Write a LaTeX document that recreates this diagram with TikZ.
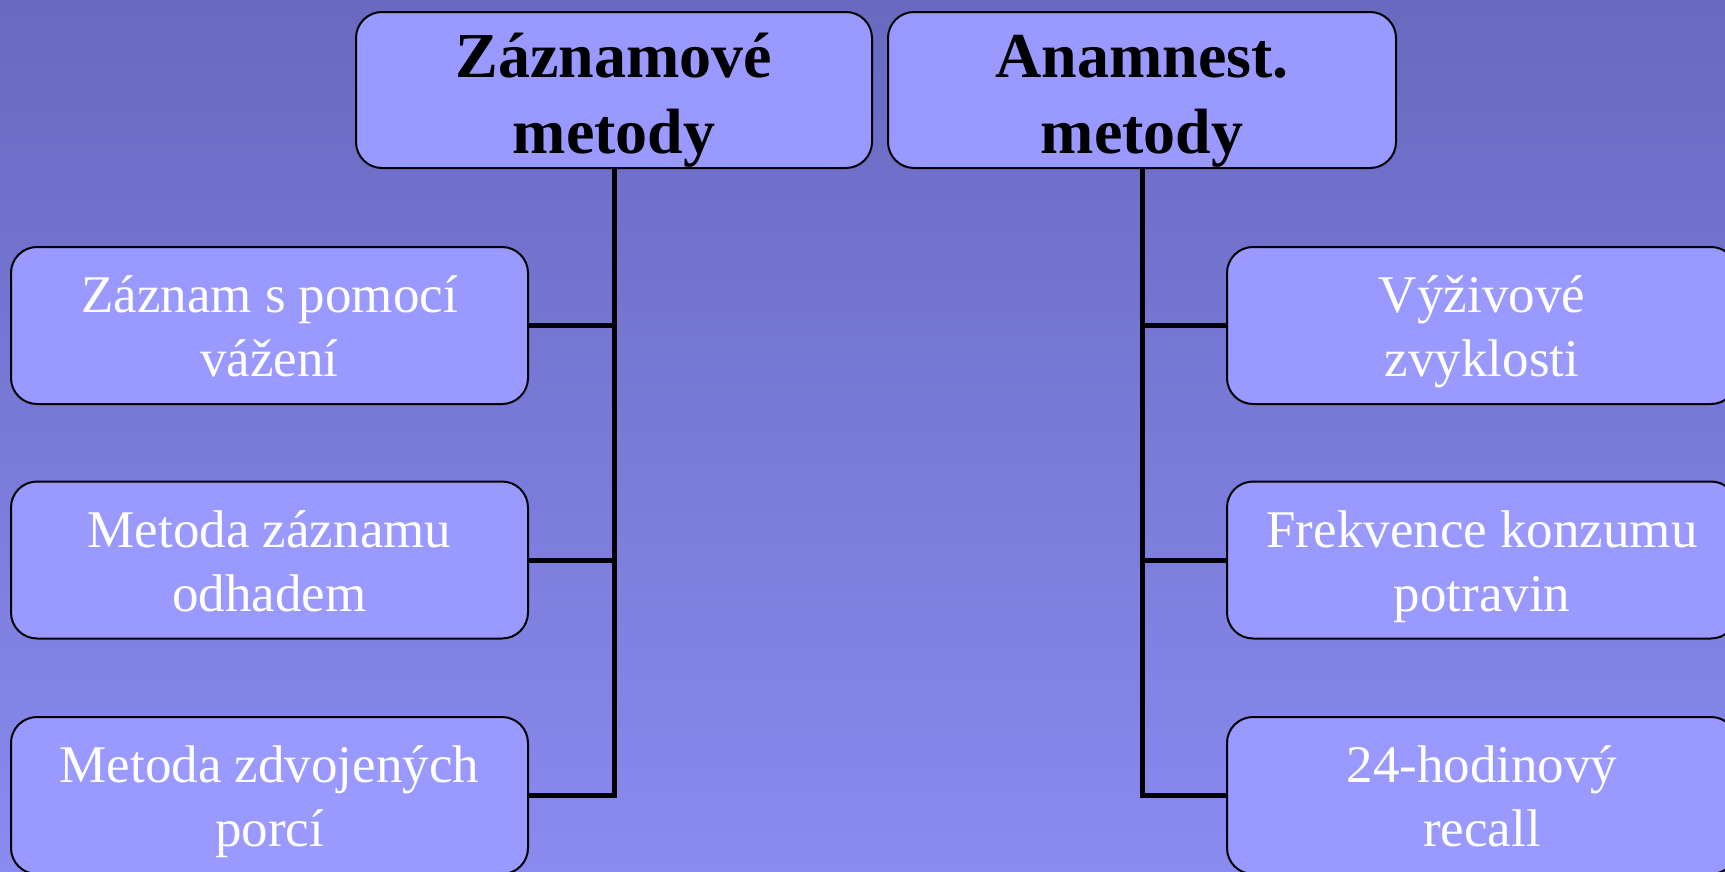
\documentclass[tikz,border=0pt]{standalone}
\usepackage{fontspec}
\setmainfont{Liberation Serif}
\definecolor{bgtop}{RGB}{105,105,192}
\definecolor{bgbot}{RGB}{138,138,240}
\definecolor{boxfill}{RGB}{153,153,255}
\newcommand{\ctop}{\rule{0pt}{50pt}}
\newcommand{\cbot}{\rule[-12pt]{0pt}{12pt}}
\newcommand{\htop}{\rule{0pt}{64pt}}
\newcommand{\hbot}{\rule[-13pt]{0pt}{13pt}}
\begin{document}
\begin{tikzpicture}[x=1pt,y=-1pt,
  box/.style={draw=black,line width=2pt,fill=boxfill,rounded corners=26pt,
    minimum width=517pt,minimum height=157pt,align=center,inner sep=0pt},
  head/.style={box,minimum width=516pt,minimum height=156pt,
    font=\fontsize{64}{76}\selectfont\bfseries,text=black},
  headr/.style={head,minimum width=508pt},
  child/.style={box,font=\fontsize{53}{64}\selectfont,text=white},
  childr/.style={child,minimum width=510pt},
  conn/.style={draw=black,line width=5pt}]
\useasboundingbox (0,0) rectangle (1725,871);
\clip (0,0) rectangle (1725,871);
\shade[top color=bgtop,bottom color=bgbot] (0,0) rectangle (1725,871);
\node[head] (t1) at (614,90) {\htop Záznamové\\metody\hbot};
\node[headr] (t2) at (1142,90) {\htop Anamnest.\\metody\hbot};
\node[child] (l1) at (269.5,325.5) {\ctop Záznam s pomocí\\vážení\cbot};
\node[child] (l2) at (269.5,560) {\ctop Metoda záznamu\\odhadem\cbot};
\node[child] (l3) at (269.5,795.5) {\ctop Metoda zdvojených\\porcí\cbot};
\node[childr] (r1) at (1482,325.5) {\ctop Výživové\\zvyklosti\cbot};
\node[childr] (r2) at (1482,560) {\ctop Frekvence konzumu\\potravin\cbot};
\node[childr] (r3) at (1482,795.5) {\ctop 24-hodinový\\recall\cbot};
\draw[conn] (t1.south) |- (l3.east);
\draw[conn] (l1.east) -- (l1.east -| t1.south);
\draw[conn] (l2.east) -- (l2.east -| t1.south);
\draw[conn] (t2.south) |- (r3.west);
\draw[conn] (r1.west) -- (r1.west -| t2.south);
\draw[conn] (r2.west) -- (r2.west -| t2.south);
\end{tikzpicture}
\end{document}
